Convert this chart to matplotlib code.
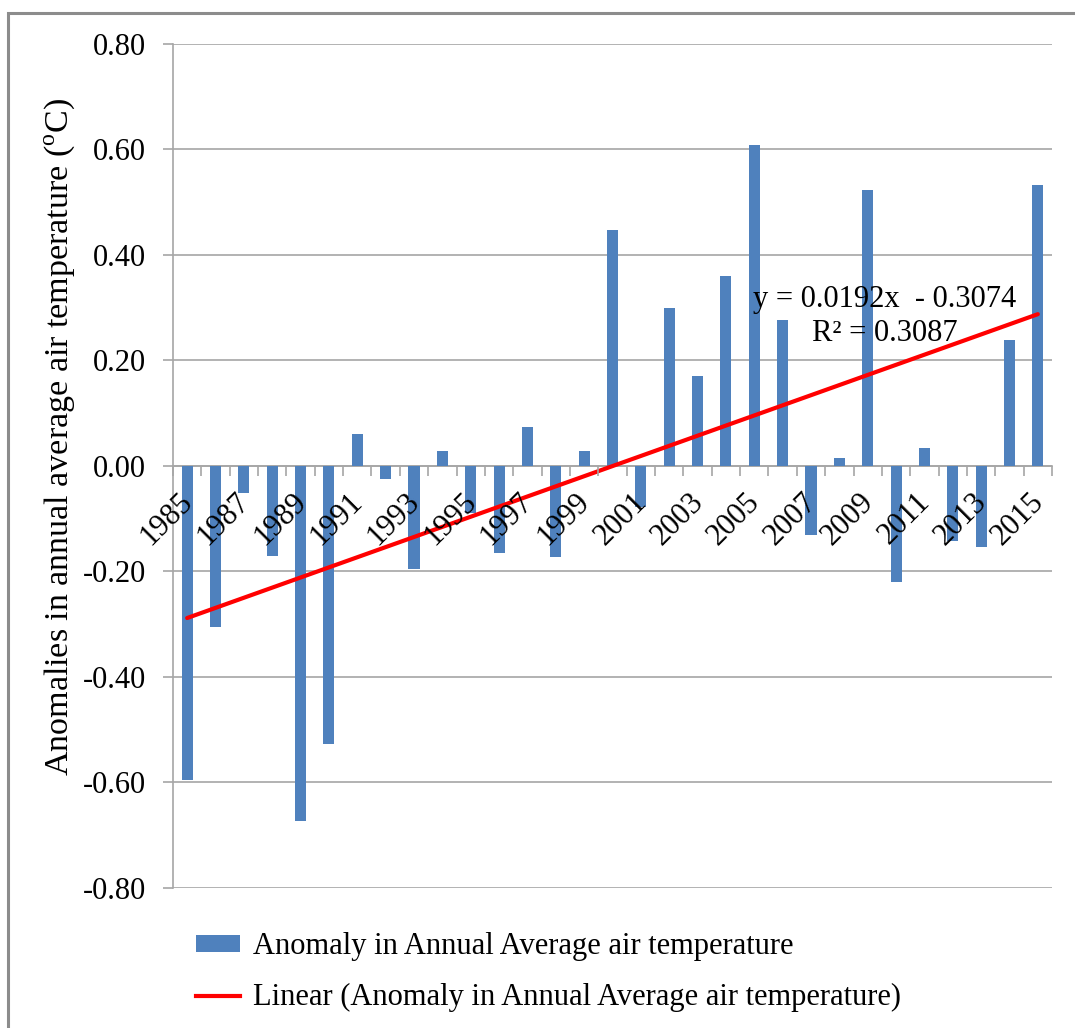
import matplotlib.pyplot as plt
import numpy as np
from matplotlib.lines import Line2D
from matplotlib.patches import Patch, Rectangle
from matplotlib.transforms import ScaledTranslation

plt.rcParams["font.family"] = ["Liberation Serif", "DejaVu Serif"]
plt.rcParams["mathtext.fontset"] = "custom"
plt.rcParams["mathtext.rm"] = "Liberation Serif"

# Data
years = list(range(1985, 2016))
anomaly = [-0.595, -0.305, -0.051, -0.170, -0.673, -0.527, 0.060, -0.025,
           -0.195, 0.028, -0.090, -0.165, 0.074, -0.173, 0.028, 0.447,
           -0.077, 0.300, 0.170, 0.360, 0.608, 0.277, -0.130, 0.016,
           0.523, -0.220, 0.035, -0.143, -0.153, 0.239, 0.533]
SLOPE, INTERCEPT, R2 = 0.0192, -0.3074, 0.3087
yticks = [-0.8, -0.6, -0.4, -0.2, 0.0, 0.2, 0.4, 0.6, 0.8]

BAR_COLOR = "#4F81BD"
TREND_COLOR = "#FF0000"
GRID = "#A6A6A6"
FS = 22

fig = plt.figure(figsize=(10.75, 10.28), dpi=100)
ax = fig.add_axes([0.1609, 0.1362, 0.8177, 0.8210])

x = np.arange(len(years))
ax.bar(x, anomaly, width=0.39, color=BAR_COLOR, zorder=3)

# Excel-style linear trend: x runs 1..n
xt = np.arange(1, len(years) + 1)
ax.plot(x, SLOPE * xt + INTERCEPT, color=TREND_COLOR, lw=3.0,
        solid_capstyle="round", zorder=4)

ax.set_xlim(-0.5, len(years) - 0.5)
ax.set_ylim(-0.8, 0.8)
ax.set_yticks(yticks)
ax.set_yticklabels([f"{v:.2f}" for v in yticks])
ax.yaxis.grid(True, color=GRID, lw=1.2, zorder=0)
ax.set_axisbelow(True)

for side in ("top", "right"):
    ax.spines[side].set_visible(False)
ax.spines["left"].set_color(GRID)
ax.spines["left"].set_linewidth(1.2)
ax.spines["bottom"].set_position(("data", 0))
ax.spines["bottom"].set_color(GRID)
ax.spines["bottom"].set_linewidth(1.2)
ax.spines["bottom"].set_zorder(2)

ax.tick_params(axis="y", length=7.5, width=1.2, color=GRID, pad=12,
               labelsize=FS)
ax.set_xticks(x)
ax.set_xticklabels([str(y) if i % 2 == 0 else "" for i, y in enumerate(years)],
                   rotation=45, ha="right", rotation_mode="anchor")
ax.set_xticks(np.arange(-0.5, len(years), 1.0), minor=True)
ax.tick_params(axis="x", which="major", length=0, pad=8, labelsize=FS)
ax.tick_params(axis="x", which="minor", length=7.5, width=1.2, color=GRID,
               direction="out")
ax.xaxis.set_zorder(5)
shift = ScaledTranslation(-0.09, -0.10, fig.dpi_scale_trans)
for lab in ax.get_xticklabels():
    lab.set_transform(lab.get_transform() + shift)

fig.text(60 / 1075, 1 - 437 / 1028,
         r"Anomalies in annual average air temperature ($^{\rm o}$C)",
         rotation=90, ha="center", va="center", fontsize=24.5)

ax.text(24.6, 0.283, f"y = {SLOPE}x  - {abs(INTERCEPT)}\nR² = {R2}",
        ha="center", va="center", multialignment="center", fontsize=FS,
        linespacing=1.25, zorder=5)

handles = [Patch(facecolor=BAR_COLOR, edgecolor="none"),
           Line2D([0], [0], color=TREND_COLOR, lw=3.0)]
labels = ["Anomaly in Annual Average air temperature",
          "Linear (Anomaly in Annual Average air temperature)"]
fig.legend(handles, labels, loc="upper left",
           bbox_to_anchor=(196 / 1075, 0.0933), frameon=False, fontsize=FS,
           handlelength=1.45, handleheight=0.5, handletextpad=0.4,
           labelspacing=0.73, borderpad=0, borderaxespad=0)

# outer chart frame
fig.patches.append(Rectangle((8 / 1075, -0.1), 1.2, 1.1 - 13 / 1028,
                             transform=fig.transFigure, fill=False,
                             edgecolor="#8C8C8C", lw=2.2))

fig.savefig("out.png", dpi=100, facecolor="white")
